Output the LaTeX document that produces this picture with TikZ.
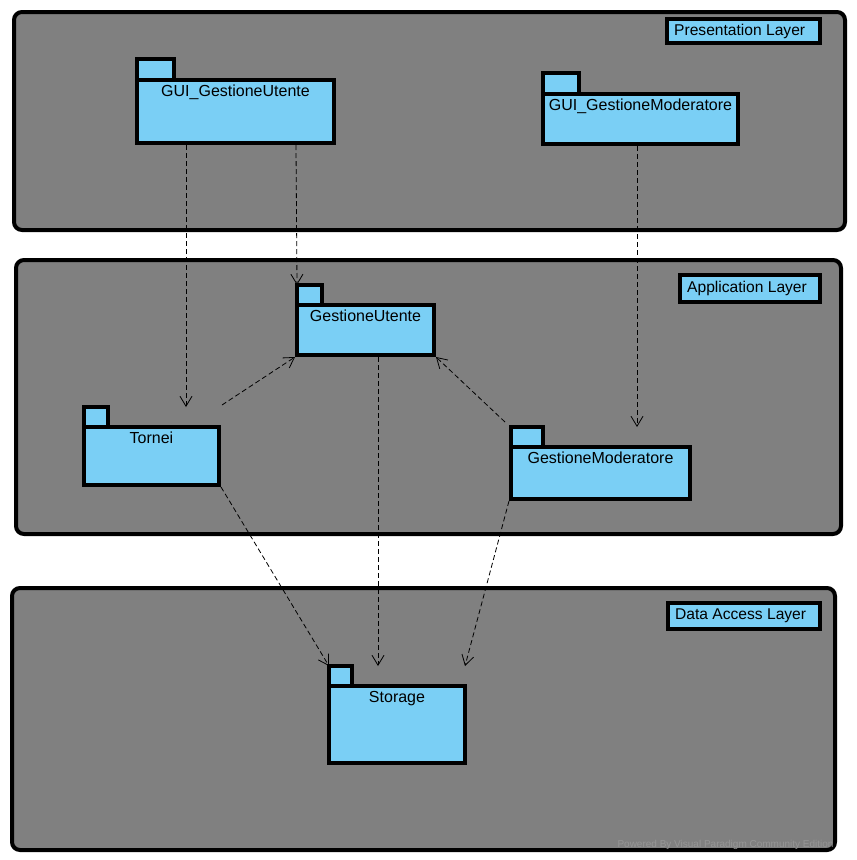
\documentclass[tikz,border=0pt]{standalone}
\usepackage{fontspec}
\setmainfont{Liberation Sans}
\definecolor{layer}{RGB}{128,128,128}
\definecolor{pkg}{RGB}{122,207,245}
\definecolor{wmark}{RGB}{150,150,150}
\usetikzlibrary{
  arrows.meta,     % open arrow tips of the dependencies
  positioning,
  calc             % end points shifted from node anchors
}
\tikzset{
  every node/.style = {
    font=\fontsize{15.6}{18}\selectfont
  },
  layer/.style = {
    draw, line width=4pt, fill=layer,
    rounded corners=8pt, inner sep=0pt, anchor=north west
  },
  layertag/.style = {
    draw, line width=4pt, fill=pkg, inner sep=0pt, anchor=north west
  },
  pkgbody/.style = {
    draw, line width=4pt, fill=pkg, inner sep=0pt, anchor=north west
  },
  pkgtab/.style = {
    draw, line width=4pt, fill=pkg, inner sep=0pt, outer sep=0pt,
    anchor=south west, minimum height=20pt
  },
  pkgname/.style = {anchor=north, inner sep=7pt, font=\fontsize{16}{18}\selectfont},
  tagname/.style = {anchor=west, inner sep=0pt, xshift=9pt},
  dep/.style = {
    line width=0.8pt, dash pattern=on 5pt off 3pt,
    -{Straight Barb[length=10pt,width=12pt]}
  }
}

\begin{document}
\begin{tikzpicture}[x=1pt,y=-1pt]
  \useasboundingbox (0,0) rectangle (857,860);

  %% layers
  \node[layer, minimum width=831pt, minimum height=218pt] (PL)  at (12,10)  {};
  \node[layer, minimum width=825pt, minimum height=274pt] (AL)  at (14,258) {};
  \node[layer, minimum width=823pt, minimum height=262pt] (DAL) at (10,586) {};

  \node[layertag, minimum width=153pt, minimum height=24pt,
        label={[tagname]west:Presentation Layer}] (PLtag)  at (665,17)  {};
  \node[layertag, minimum width=140pt, minimum height=27pt,
        label={[tagname]west:Application Layer}]  (ALtag)  at (678,273) {};
  \node[layertag, minimum width=152pt, minimum height=26pt,
        label={[tagname]west:Data Access Layer}]  (DALtag) at (666,601) {};

  %% packages
  \node[pkgbody, minimum width=197pt, minimum height=63pt,
        label={[pkgname]north:GUI\_GestioneUtente}] (GUIGU) at (135,78) {};
  \node[pkgtab, minimum width=37pt, minimum height=21pt] (GUIGUtab) at ($(GUIGU.north west)+(2,2)$) {};

  \node[pkgbody, minimum width=195pt, minimum height=50pt,
        label={[pkgname]north:GUI\_GestioneModeratore}] (GUIGM) at (541,92) {};
  \node[pkgtab, minimum width=36pt, minimum height=21pt] (GUIGMtab) at ($(GUIGM.north west)+(2,2)$) {};

  \node[pkgbody, minimum width=137pt, minimum height=50pt,
        label={[pkgname]north:GestioneUtente}] (GU) at (295,303) {};
  \node[pkgtab, minimum width=25pt] (GUtab) at ($(GU.north west)+(2,2)$) {};

  \node[pkgbody, minimum width=135pt, minimum height=58pt,
        label={[pkgname]north:Tornei}] (Tornei) at (82,425) {};
  \node[pkgtab, minimum width=24pt] (Torneitab) at ($(Tornei.north west)+(2,2)$) {};

  \node[pkgbody, minimum width=179pt, minimum height=52pt,
        label={[pkgname]north:GestioneModeratore}] (GM) at (509,445) {};
  \node[pkgtab, minimum width=32pt] (GMtab) at ($(GM.north west)+(2,2)$) {};

  \node[pkgbody, minimum width=136pt, minimum height=77pt,
        label={[pkgname]north:Storage}] (Storage) at (327,684) {};
  \node[pkgtab, minimum width=23pt] (Storagetab) at ($(Storage.north west)+(2,2)$) {};

  %% dependencies
  \draw[dep] ($(GUIGU.south west)+(51,0)$) to ($(Tornei.north west)+(104,-18)$);
  \draw[dep] ($(GUIGU.south west)+(161,0)$) to (GUtab.north west);
  \draw[dep] ($(GUIGM.south west)+(96,0)$) to ($(GM.north west)+(128,-18)$);

  \draw[dep] ($(Tornei.north east)+(1,-20)$) to (GU.south west);
  \draw[dep] ($(GM.north west)+(-4,-23)$) to (GU.south east);

  \draw[dep] ($(GU.south west)+(83,0)$) to ($(Storage.north west)+(51,-18)$);
  \draw[dep] (Tornei.south east) to (Storagetab.north west);
  \draw[dep] (GM.south west) to ($(Storage.north east)+(-2,-18)$);

  %% watermark
  \node[wmark, font=\fontsize{10}{12}\selectfont, anchor=west] (WM) at (614,845)
    {Powered By Visual Paradigm Community Edition};

\end{tikzpicture}
\end{document}
